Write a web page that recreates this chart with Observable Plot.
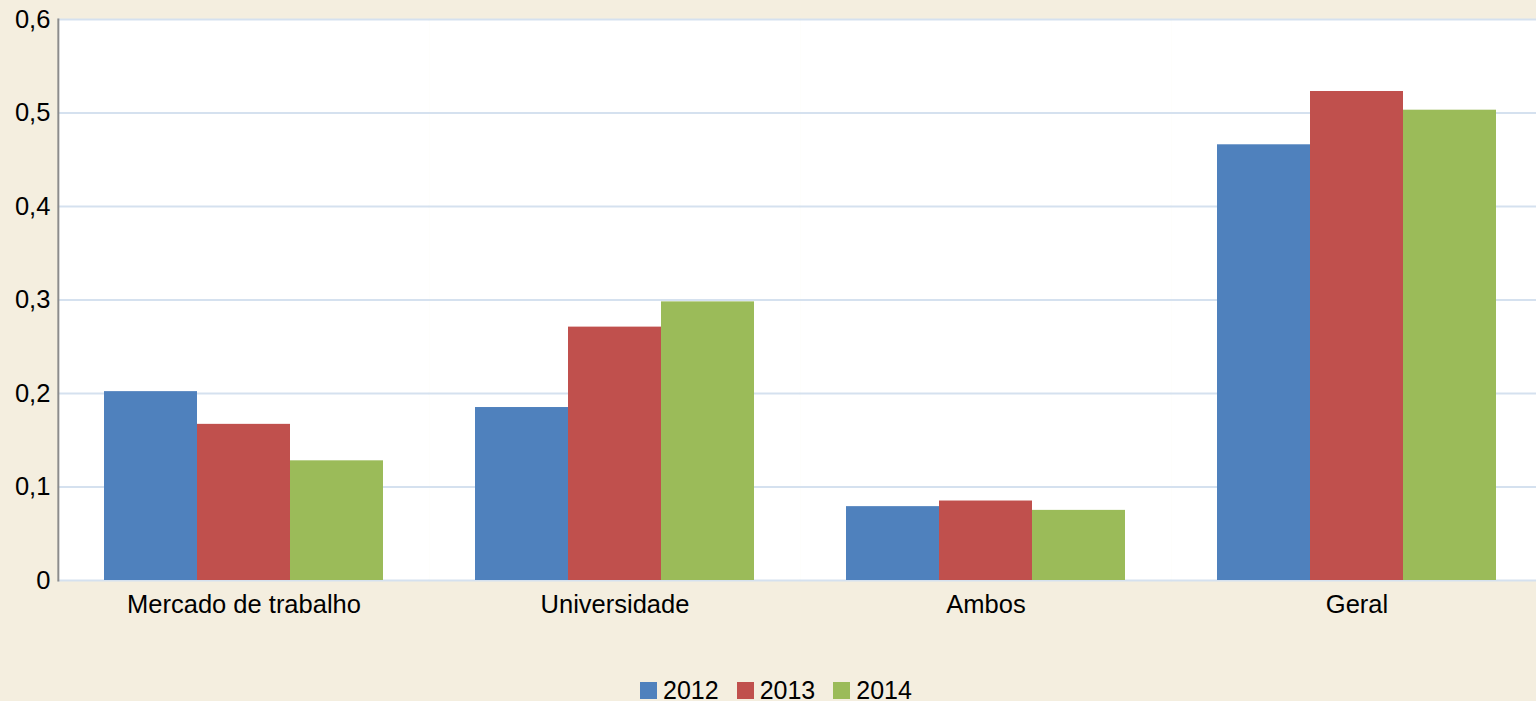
<!DOCTYPE html>
<html>
<head>
<meta charset="utf-8">
<script src="https://cdn.jsdelivr.net/npm/d3@7"></script>
<script src="https://cdn.jsdelivr.net/npm/@observablehq/plot@0.6"></script>
<style>
  html, body { margin: 0; padding: 0; background: #F4EEDF; overflow: hidden; width: 1536px; height: 701px; }
  #chart { position: absolute; left: 0; top: 0; width: 1542px; }
  #chart svg { max-width: none; }
  #legend { position: absolute; left: 640px; top: 680px; display: flex; align-items: center; line-height: 20px; height: 20px;
            font-family: "Liberation Sans", Arial, sans-serif; font-size: 25px; color: #000; }
  .item { display: flex; align-items: center; margin-right: 18px; }
  .sw { width: 17px; height: 17px; margin-right: 6px; }
</style>
</head>
<body>
<div id="chart"></div>
<div id="legend"></div>
<script>
const categories = ["Mercado de trabalho", "Universidade", "Ambos", "Geral"];
const years = ["2012", "2013", "2014"];
const colors = ["#4F81BD", "#C0504D", "#9BBB59"];
const values2012 = [0.202, 0.185, 0.079, 0.466];
const values2013 = [0.167, 0.271, 0.085, 0.523];
const values2014 = [0.128, 0.298, 0.075, 0.503];
const yTicks = [0, 0.1, 0.2, 0.3, 0.4, 0.5, 0.6];

const series = [values2012, values2013, values2014];
const data = [];
categories.forEach((c, i) => {
  years.forEach((y, j) => data.push({category: c, year: y, value: series[j][i]}));
});

const fmt = d => d === 0 ? "0" : d.toFixed(1).replace(".", ",");
const gap = 46.17;

const chart = Plot.plot({
  width: 1542,
  height: 640,
  marginLeft: 57,
  marginRight: 0,
  marginTop: 19,
  marginBottom: 60,
  style: {fontFamily: "Liberation Sans, Arial, sans-serif", fontSize: "25px", background: "transparent", color: "#000", overflow: "visible", maxWidth: "none"},
  fx: {domain: categories, paddingInner: 0.2487, paddingOuter: 0.1243, label: null, axis: null},
  x: {domain: years, padding: 0, axis: null},
  y: {domain: [0, 0.6], axis: null},
  color: {domain: years, range: colors},
  marks: [
    Plot.frame({fill: "#FFFFFF", stroke: null, insetLeft: -gap, insetRight: -gap}),
    Plot.ruleY(yTicks, {stroke: "#D5E1EF", strokeWidth: 2, insetLeft: -gap, insetRight: -gap}),
    Plot.barY(data, {fx: "category", x: "year", y: "value", fill: "year"}),
    Plot.frame({anchor: "left", facetAnchor: "left", insetLeft: -gap, stroke: "#8C8C8C", strokeWidth: 2}),
    Plot.axisY(yTicks, {tickSize: 0, tickPadding: 8 + gap, tickFormat: fmt, fontSize: 25.5, label: null, facetAnchor: "left"}),
    Plot.axisFx({anchor: "bottom", tickSize: 0, tickPadding: 14, fontSize: 25.5, label: null})
  ]
});
document.getElementById("chart").appendChild(chart);

const legend = document.getElementById("legend");
years.forEach((y, j) => {
  const it = document.createElement("div");
  it.className = "item";
  const sw = document.createElement("div");
  sw.className = "sw";
  sw.style.background = colors[j];
  const t = document.createElement("span");
  t.textContent = y;
  it.appendChild(sw); it.appendChild(t);
  legend.appendChild(it);
});
</script>
</body>
</html>
